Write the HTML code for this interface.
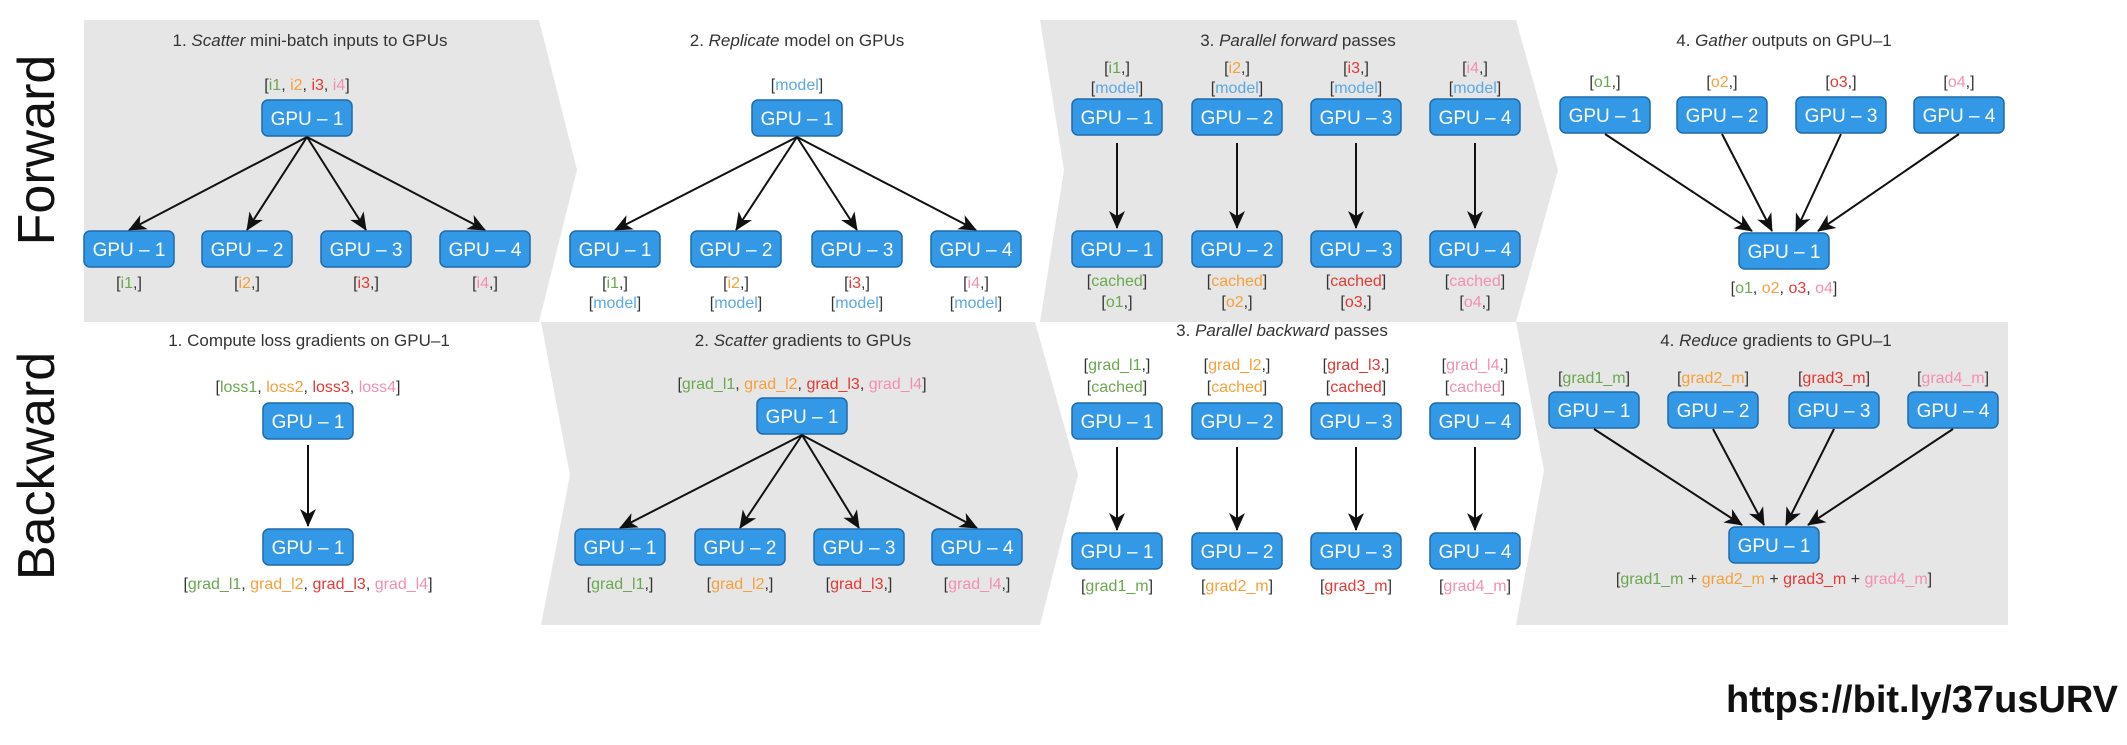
<!DOCTYPE html>
<html><head><meta charset="utf-8"><style>
body{margin:0;background:#fff}
svg text{font-family:"Liberation Sans",Arial,sans-serif}
.t{font-size:17px;fill:#333;text-anchor:middle}
.b{font-size:19px;fill:#fff;text-anchor:middle}
.l{font-size:16px;fill:#333;text-anchor:middle}
.g{fill:#6aa84f}.o{fill:#f6a03c}.r{fill:#e53935}.p{fill:#f48fb1}.m{fill:#5aa9e6}
rect.bx{fill:#3399e6;stroke:#1f6aa8;stroke-width:1.5}
line{stroke:#111;stroke-width:2;marker-end:url(#ah)}
</style></head><body>
<svg width="2127" height="740" viewBox="0 0 2127 740" xmlns="http://www.w3.org/2000/svg">
<defs><marker id="ah" markerWidth="18" markerHeight="16" refX="17" refY="8" orient="auto" markerUnits="userSpaceOnUse"><path d="M0,0 L18,8 L0,16 L5,8 z" fill="#111"/></marker></defs>
<g fill="#e6e6e6">
<polygon points="84,20 539,20 577,170 539,322 84,322"/>
<polygon points="1040,20 1516,20 1558,170 1516,322 1040,322 1064,170"/>
<polygon points="541,322 1035,322 1078,475 1040,625 541,625 570,475"/>
<polygon points="1516,322 2008,322 2008,625 1516,625 1544,470"/>
</g>
<text transform="translate(54,150) rotate(-90)" font-size="52" text-anchor="middle" fill="#111">Forward</text>
<text transform="translate(54,466) rotate(-90)" font-size="52" text-anchor="middle" fill="#111">Backward</text>

<text class="t" x="310" y="46">1. <tspan font-style="italic">Scatter</tspan> mini-batch inputs to GPUs</text>
<text class="l" x="307" y="90">[<tspan class="g">i1</tspan>, <tspan class="o">i2</tspan>, <tspan class="r">i3</tspan>, <tspan class="p">i4</tspan>]</text>
<rect class="bx" x="262" y="100" width="90" height="36" rx="6"/><text class="b" x="307" y="125">GPU – 1</text>
<line x1="307" y1="137" x2="129" y2="230"/><line x1="307" y1="137" x2="247" y2="230"/><line x1="307" y1="137" x2="366" y2="230"/><line x1="307" y1="137" x2="485" y2="230"/>
<rect class="bx" x="84" y="231" width="90" height="36" rx="6"/><text class="b" x="129" y="256">GPU – 1</text>
<rect class="bx" x="202" y="231" width="90" height="36" rx="6"/><text class="b" x="247" y="256">GPU – 2</text>
<rect class="bx" x="321" y="231" width="90" height="36" rx="6"/><text class="b" x="366" y="256">GPU – 3</text>
<rect class="bx" x="440" y="231" width="90" height="36" rx="6"/><text class="b" x="485" y="256">GPU – 4</text>
<text class="l" x="129" y="288">[<tspan class="g">i1</tspan>,]</text><text class="l" x="247" y="288">[<tspan class="o">i2</tspan>,]</text><text class="l" x="366" y="288">[<tspan class="r">i3</tspan>,]</text><text class="l" x="485" y="288">[<tspan class="p">i4</tspan>,]</text>

<text class="t" x="797" y="46">2. <tspan font-style="italic">Replicate</tspan> model on GPUs</text>
<text class="l" x="797" y="90">[<tspan class="m">model</tspan>]</text>
<rect class="bx" x="752" y="100" width="90" height="36" rx="6"/><text class="b" x="797" y="125">GPU – 1</text>
<line x1="797" y1="137" x2="615" y2="230"/><line x1="797" y1="137" x2="736" y2="230"/><line x1="797" y1="137" x2="857" y2="230"/><line x1="797" y1="137" x2="976" y2="230"/>
<rect class="bx" x="570" y="231" width="90" height="36" rx="6"/><text class="b" x="615" y="256">GPU – 1</text>
<rect class="bx" x="691" y="231" width="90" height="36" rx="6"/><text class="b" x="736" y="256">GPU – 2</text>
<rect class="bx" x="812" y="231" width="90" height="36" rx="6"/><text class="b" x="857" y="256">GPU – 3</text>
<rect class="bx" x="931" y="231" width="90" height="36" rx="6"/><text class="b" x="976" y="256">GPU – 4</text>
<text class="l" x="615" y="288">[<tspan class="g">i1</tspan>,]</text><text class="l" x="736" y="288">[<tspan class="o">i2</tspan>,]</text><text class="l" x="857" y="288">[<tspan class="r">i3</tspan>,]</text><text class="l" x="976" y="288">[<tspan class="p">i4</tspan>,]</text>
<text class="l" x="615" y="308">[<tspan class="m">model</tspan>]</text><text class="l" x="736" y="308">[<tspan class="m">model</tspan>]</text><text class="l" x="857" y="308">[<tspan class="m">model</tspan>]</text><text class="l" x="976" y="308">[<tspan class="m">model</tspan>]</text>

<text class="t" x="1298" y="46">3. <tspan font-style="italic">Parallel forward</tspan> passes</text>
<text class="l" x="1117" y="73">[<tspan class="g">i1</tspan>,]</text><text class="l" x="1237" y="73">[<tspan class="o">i2</tspan>,]</text><text class="l" x="1356" y="73">[<tspan class="r">i3</tspan>,]</text><text class="l" x="1475" y="73">[<tspan class="p">i4</tspan>,]</text>
<text class="l" x="1117" y="93">[<tspan class="m">model</tspan>]</text><text class="l" x="1237" y="93">[<tspan class="m">model</tspan>]</text><text class="l" x="1356" y="93">[<tspan class="m">model</tspan>]</text><text class="l" x="1475" y="93">[<tspan class="m">model</tspan>]</text>
<rect class="bx" x="1072" y="99" width="90" height="36" rx="6"/><text class="b" x="1117" y="124">GPU – 1</text>
<rect class="bx" x="1192" y="99" width="90" height="36" rx="6"/><text class="b" x="1237" y="124">GPU – 2</text>
<rect class="bx" x="1311" y="99" width="90" height="36" rx="6"/><text class="b" x="1356" y="124">GPU – 3</text>
<rect class="bx" x="1430" y="99" width="90" height="36" rx="6"/><text class="b" x="1475" y="124">GPU – 4</text>
<line x1="1117" y1="143" x2="1117" y2="228"/><line x1="1237" y1="143" x2="1237" y2="228"/><line x1="1356" y1="143" x2="1356" y2="228"/><line x1="1475" y1="143" x2="1475" y2="228"/>
<rect class="bx" x="1072" y="231" width="90" height="36" rx="6"/><text class="b" x="1117" y="256">GPU – 1</text>
<rect class="bx" x="1192" y="231" width="90" height="36" rx="6"/><text class="b" x="1237" y="256">GPU – 2</text>
<rect class="bx" x="1311" y="231" width="90" height="36" rx="6"/><text class="b" x="1356" y="256">GPU – 3</text>
<rect class="bx" x="1430" y="231" width="90" height="36" rx="6"/><text class="b" x="1475" y="256">GPU – 4</text>
<text class="l" x="1117" y="286">[<tspan class="g">cached</tspan>]</text><text class="l" x="1237" y="286">[<tspan class="o">cached</tspan>]</text><text class="l" x="1356" y="286">[<tspan class="r">cached</tspan>]</text><text class="l" x="1475" y="286">[<tspan class="p">cached</tspan>]</text>
<text class="l" x="1117" y="307">[<tspan class="g">o1</tspan>,]</text><text class="l" x="1237" y="307">[<tspan class="o">o2</tspan>,]</text><text class="l" x="1356" y="307">[<tspan class="r">o3</tspan>,]</text><text class="l" x="1475" y="307">[<tspan class="p">o4</tspan>,]</text>

<text class="t" x="1784" y="46">4. <tspan font-style="italic">Gather</tspan> outputs on GPU–1</text>
<text class="l" x="1605" y="87">[<tspan class="g">o1</tspan>,]</text><text class="l" x="1722" y="87">[<tspan class="o">o2</tspan>,]</text><text class="l" x="1841" y="87">[<tspan class="r">o3</tspan>,]</text><text class="l" x="1959" y="87">[<tspan class="p">o4</tspan>,]</text>
<rect class="bx" x="1560" y="97" width="90" height="36" rx="6"/><text class="b" x="1605" y="122">GPU – 1</text>
<rect class="bx" x="1677" y="97" width="90" height="36" rx="6"/><text class="b" x="1722" y="122">GPU – 2</text>
<rect class="bx" x="1796" y="97" width="90" height="36" rx="6"/><text class="b" x="1841" y="122">GPU – 3</text>
<rect class="bx" x="1914" y="97" width="90" height="36" rx="6"/><text class="b" x="1959" y="122">GPU – 4</text>
<line x1="1605" y1="134" x2="1752" y2="231"/><line x1="1722" y1="134" x2="1772" y2="231"/><line x1="1841" y1="134" x2="1796" y2="231"/><line x1="1959" y1="134" x2="1818" y2="231"/>
<rect class="bx" x="1739" y="233" width="90" height="36" rx="6"/><text class="b" x="1784" y="258">GPU – 1</text>
<text class="l" x="1784" y="293">[<tspan class="g">o1</tspan>, <tspan class="o">o2</tspan>, <tspan class="r">o3</tspan>, <tspan class="p">o4</tspan>]</text>

<text class="t" x="309" y="346">1. Compute loss gradients on GPU–1</text>
<text class="l" x="308" y="392">[<tspan class="g">loss1</tspan>, <tspan class="o">loss2</tspan>, <tspan class="r">loss3</tspan>, <tspan class="p">loss4</tspan>]</text>
<rect class="bx" x="263" y="403" width="90" height="36" rx="6"/><text class="b" x="308" y="428">GPU – 1</text>
<line x1="308" y1="445" x2="308" y2="526"/>
<rect class="bx" x="263" y="529" width="90" height="36" rx="6"/><text class="b" x="308" y="554">GPU – 1</text>
<text class="l" x="308" y="589">[<tspan class="g">grad_l1</tspan>, <tspan class="o">grad_l2</tspan>, <tspan class="r">grad_l3</tspan>, <tspan class="p">grad_l4</tspan>]</text>

<text class="t" x="803" y="346">2. <tspan font-style="italic">Scatter</tspan> gradients to GPUs</text>
<text class="l" x="802" y="389">[<tspan class="g">grad_l1</tspan>, <tspan class="o">grad_l2</tspan>, <tspan class="r">grad_l3</tspan>, <tspan class="p">grad_l4</tspan>]</text>
<rect class="bx" x="757" y="398" width="90" height="36" rx="6"/><text class="b" x="802" y="423">GPU – 1</text>
<line x1="802" y1="435" x2="620" y2="528"/><line x1="802" y1="435" x2="740" y2="528"/><line x1="802" y1="435" x2="859" y2="528"/><line x1="802" y1="435" x2="977" y2="528"/>
<rect class="bx" x="575" y="529" width="90" height="36" rx="6"/><text class="b" x="620" y="554">GPU – 1</text>
<rect class="bx" x="695" y="529" width="90" height="36" rx="6"/><text class="b" x="740" y="554">GPU – 2</text>
<rect class="bx" x="814" y="529" width="90" height="36" rx="6"/><text class="b" x="859" y="554">GPU – 3</text>
<rect class="bx" x="932" y="529" width="90" height="36" rx="6"/><text class="b" x="977" y="554">GPU – 4</text>
<text class="l" x="620" y="589">[<tspan class="g">grad_l1</tspan>,]</text><text class="l" x="740" y="589">[<tspan class="o">grad_l2</tspan>,]</text><text class="l" x="859" y="589">[<tspan class="r">grad_l3</tspan>,]</text><text class="l" x="977" y="589">[<tspan class="p">grad_l4</tspan>,]</text>

<text class="t" x="1282" y="336">3. <tspan font-style="italic">Parallel backward</tspan> passes</text>
<text class="l" x="1117" y="370">[<tspan class="g">grad_l1</tspan>,]</text><text class="l" x="1237" y="370">[<tspan class="o">grad_l2</tspan>,]</text><text class="l" x="1356" y="370">[<tspan class="r">grad_l3</tspan>,]</text><text class="l" x="1475" y="370">[<tspan class="p">grad_l4</tspan>,]</text>
<text class="l" x="1117" y="392">[<tspan class="g">cached</tspan>]</text><text class="l" x="1237" y="392">[<tspan class="o">cached</tspan>]</text><text class="l" x="1356" y="392">[<tspan class="r">cached</tspan>]</text><text class="l" x="1475" y="392">[<tspan class="p">cached</tspan>]</text>
<rect class="bx" x="1072" y="403" width="90" height="36" rx="6"/><text class="b" x="1117" y="428">GPU – 1</text>
<rect class="bx" x="1192" y="403" width="90" height="36" rx="6"/><text class="b" x="1237" y="428">GPU – 2</text>
<rect class="bx" x="1311" y="403" width="90" height="36" rx="6"/><text class="b" x="1356" y="428">GPU – 3</text>
<rect class="bx" x="1430" y="403" width="90" height="36" rx="6"/><text class="b" x="1475" y="428">GPU – 4</text>
<line x1="1117" y1="447" x2="1117" y2="530"/><line x1="1237" y1="447" x2="1237" y2="530"/><line x1="1356" y1="447" x2="1356" y2="530"/><line x1="1475" y1="447" x2="1475" y2="530"/>
<rect class="bx" x="1072" y="533" width="90" height="36" rx="6"/><text class="b" x="1117" y="558">GPU – 1</text>
<rect class="bx" x="1192" y="533" width="90" height="36" rx="6"/><text class="b" x="1237" y="558">GPU – 2</text>
<rect class="bx" x="1311" y="533" width="90" height="36" rx="6"/><text class="b" x="1356" y="558">GPU – 3</text>
<rect class="bx" x="1430" y="533" width="90" height="36" rx="6"/><text class="b" x="1475" y="558">GPU – 4</text>
<text class="l" x="1117" y="591">[<tspan class="g">grad1_m</tspan>]</text><text class="l" x="1237" y="591">[<tspan class="o">grad2_m</tspan>]</text><text class="l" x="1356" y="591">[<tspan class="r">grad3_m</tspan>]</text><text class="l" x="1475" y="591">[<tspan class="p">grad4_m</tspan>]</text>

<text class="t" x="1776" y="346">4. <tspan font-style="italic">Reduce</tspan> gradients to GPU–1</text>
<text class="l" x="1594" y="383">[<tspan class="g">grad1_m</tspan>]</text><text class="l" x="1713" y="383">[<tspan class="o">grad2_m</tspan>]</text><text class="l" x="1834" y="383">[<tspan class="r">grad3_m</tspan>]</text><text class="l" x="1953" y="383">[<tspan class="p">grad4_m</tspan>]</text>
<rect class="bx" x="1549" y="392" width="90" height="36" rx="6"/><text class="b" x="1594" y="417">GPU – 1</text>
<rect class="bx" x="1668" y="392" width="90" height="36" rx="6"/><text class="b" x="1713" y="417">GPU – 2</text>
<rect class="bx" x="1789" y="392" width="90" height="36" rx="6"/><text class="b" x="1834" y="417">GPU – 3</text>
<rect class="bx" x="1908" y="392" width="90" height="36" rx="6"/><text class="b" x="1953" y="417">GPU – 4</text>
<line x1="1594" y1="429" x2="1742" y2="525"/><line x1="1713" y1="429" x2="1764" y2="525"/><line x1="1834" y1="429" x2="1786" y2="525"/><line x1="1953" y1="429" x2="1808" y2="525"/>
<rect class="bx" x="1729" y="527" width="90" height="36" rx="6"/><text class="b" x="1774" y="552">GPU – 1</text>
<text class="l" x="1774" y="584">[<tspan class="g">grad1_m</tspan> + <tspan class="o">grad2_m</tspan> + <tspan class="r">grad3_m</tspan> + <tspan class="p">grad4_m</tspan>]</text>

<text x="2118" y="712" font-size="38" font-weight="bold" text-anchor="end" fill="#111">https://bit.ly/37usURV</text>
</svg>
</body></html>
